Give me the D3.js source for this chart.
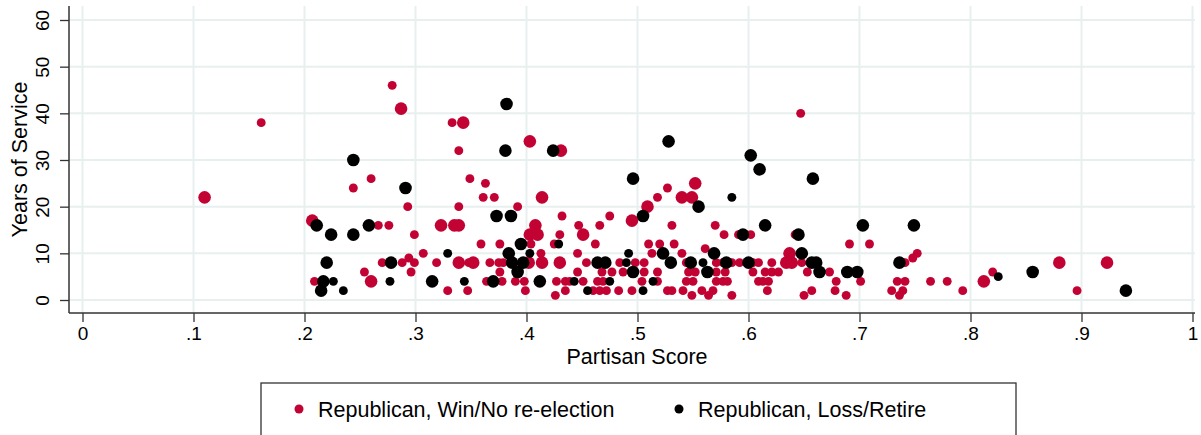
<!DOCTYPE html>
<html lang="en">
<head>
    <title>Partisan score vs years of service</title>
    <meta charset="utf-8">
    <style>
        body { margin: 0; background: #fff; }
        text { font-family: "Liberation Sans", Arial, Helvetica, sans-serif; fill: #000; }
    </style>
    <script src="https://d3js.org/d3.v7.min.js"></script>
</head>
<body>
<div id="chart"></div>
<script>

    // [partisan score, years of service, weight] — weight 2 = bigger marker
    const winPoints = [
        [0.110, 22, 2], [0.161, 38, 1], [0.279, 46, 1], [0.287, 41, 2], [0.333, 38, 1], [0.343, 38, 2],
        [0.339, 32, 1], [0.260, 26, 1], [0.244, 24, 1], [0.349, 26, 1], [0.363, 25, 1], [0.361, 22, 1],
        [0.371, 22, 1], [0.293, 20, 1], [0.339, 20, 1], [0.207, 17, 2], [0.2665, 16, 1], [0.276, 16, 1],
        [0.299, 14, 1], [0.323, 16, 2], [0.335, 16, 2], [0.339, 16, 2], [0.359, 12, 1], [0.376, 12, 1],
        [0.307, 10, 1], [0.270, 8, 1], [0.288, 8, 1], [0.294, 9, 1], [0.299, 8, 1], [0.319, 8, 1],
        [0.339, 8, 2], [0.348, 8, 1], [0.352, 8, 2], [0.367, 8, 1], [0.375, 8, 1], [0.379, 8, 1],
        [0.254, 6, 1], [0.296, 6, 1], [0.376, 6, 1], [0.209, 4, 1], [0.260, 4, 2], [0.364, 4, 1],
        [0.329, 2, 1], [0.347, 2, 1],
        [0.403, 34, 2], [0.431, 32, 2], [0.414, 22, 2], [0.392, 20, 1], [0.432, 18, 1], [0.475, 18, 1],
        [0.495, 17, 2], [0.509, 20, 2], [0.518, 22, 1], [0.527, 24, 1], [0.540, 22, 2], [0.549, 22, 2],
        [0.552, 25, 2], [0.531, 16, 1], [0.447, 16, 1], [0.466, 16, 1], [0.408, 16, 2], [0.403, 14, 2],
        [0.410, 14, 2], [0.430, 14, 1], [0.451, 14, 2], [0.404, 12, 1], [0.425, 12, 1], [0.462, 12, 1],
        [0.510, 12, 1], [0.520, 12, 1], [0.533, 12, 1], [0.413, 10, 1], [0.446, 10, 1], [0.513, 10, 1],
        [0.540, 10, 1], [0.402, 8, 2], [0.414, 8, 2], [0.430, 8, 2], [0.454, 8, 1], [0.484, 8, 1],
        [0.498, 8, 1], [0.506, 8, 1], [0.544, 8, 1], [0.468, 6, 1], [0.477, 6, 1], [0.487, 6, 1],
        [0.506, 6, 1], [0.518, 6, 1], [0.546, 6, 1], [0.552, 6, 1], [0.446, 6, 1], [0.378, 4, 1],
        [0.390, 4, 1], [0.398, 4, 1], [0.427, 4, 1], [0.435, 4, 1], [0.439, 4, 1], [0.451, 4, 1],
        [0.464, 4, 1], [0.469, 4, 1], [0.504, 4, 1], [0.518, 4, 1], [0.544, 4, 1], [0.550, 4, 1],
        [0.399, 2, 1], [0.426, 1, 1], [0.435, 2, 1], [0.460, 2, 1], [0.466, 2, 1], [0.472, 2, 1],
        [0.483, 2, 1], [0.495, 2, 1], [0.527, 2, 1], [0.531, 2, 1], [0.541, 2, 1], [0.549, 1, 1],
        [0.558, 2, 1], [0.564, 1, 1], [0.568, 2, 1],
        [0.570, 16, 1], [0.578, 14, 1], [0.591, 14, 1], [0.602, 14, 1], [0.642, 14, 1], [0.561, 11, 1],
        [0.637, 10, 2], [0.691, 12, 1], [0.709, 12, 1], [0.647, 40, 1], [0.571, 8, 1], [0.577, 8, 1],
        [0.585, 8, 1], [0.592, 8, 1], [0.604, 8, 1], [0.609, 8, 1], [0.621, 8, 1], [0.634, 8, 2],
        [0.639, 8, 2], [0.648, 8, 1], [0.571, 6, 1], [0.579, 6, 1], [0.604, 6, 1], [0.615, 6, 1],
        [0.621, 6, 1], [0.627, 6, 1], [0.653, 6, 1], [0.673, 6, 1], [0.571, 4, 1], [0.577, 4, 1],
        [0.581, 4, 1], [0.609, 4, 1], [0.613, 4, 1], [0.618, 4, 1], [0.679, 4, 1], [0.701, 4, 1],
        [0.617, 2, 1], [0.657, 2, 1], [0.678, 2, 1], [0.585, 1, 1], [0.650, 1, 1], [0.688, 1, 1],
        [0.752, 10, 1], [0.748, 9, 1], [0.741, 8, 1], [0.734, 4, 1], [0.741, 4, 1], [0.729, 2, 1],
        [0.739, 2, 1], [0.736, 1, 1], [0.764, 4, 1], [0.779, 4, 1], [0.793, 2, 1], [0.812, 4, 2],
        [0.820, 6, 1], [0.880, 8, 2], [0.896, 2, 1], [0.923, 8, 2]
    ];

    const lossPoints = [
        [0.244, 30, 2], [0.291, 24, 2], [0.373, 18, 2], [0.211, 16, 2], [0.224, 14, 2], [0.244, 14, 2],
        [0.258, 16, 2], [0.329, 10, 1], [0.220, 8, 2], [0.278, 8, 2], [0.217, 4, 2], [0.226, 4, 1],
        [0.277, 4, 1], [0.315, 4, 2], [0.344, 4, 1], [0.370, 4, 2], [0.215, 2, 2], [0.235, 2, 1],
        [0.382, 42, 2], [0.381, 32, 2], [0.424, 32, 2], [0.528, 34, 2], [0.496, 26, 2], [0.386, 18, 2],
        [0.505, 18, 2], [0.555, 20, 2], [0.395, 12, 2], [0.429, 12, 1], [0.384, 10, 2], [0.403, 10, 1],
        [0.492, 10, 1], [0.523, 10, 2], [0.387, 8, 2], [0.397, 8, 2], [0.464, 8, 2], [0.471, 8, 2],
        [0.490, 8, 1], [0.530, 8, 2], [0.548, 8, 2], [0.392, 6, 2], [0.496, 6, 2], [0.412, 4, 2],
        [0.443, 4, 1], [0.455, 2, 1], [0.475, 4, 1], [0.505, 2, 1], [0.514, 4, 1], [0.569, 10, 2],
        [0.559, 8, 1], [0.563, 6, 2], [0.615, 16, 2], [0.703, 16, 2], [0.595, 14, 2], [0.645, 14, 2],
        [0.648, 10, 2], [0.580, 8, 2], [0.600, 8, 2], [0.657, 8, 2], [0.661, 8, 2], [0.664, 6, 2],
        [0.689, 6, 2], [0.698, 6, 2], [0.602, 31, 2], [0.610, 28, 2], [0.658, 26, 2], [0.585, 22, 1],
        [0.749, 16, 2], [0.736, 8, 2], [0.825, 5, 1], [0.856, 6, 2], [0.940, 2, 2]
    ];

    const xTicks = [0, 0.1, 0.2, 0.3, 0.4, 0.5, 0.6, 0.7, 0.8, 0.9, 1];
    const xTickLabels = ["0", ".1", ".2", ".3", ".4", ".5", ".6", ".7", ".8", ".9", "1"];
    const yTicks = [0, 10, 20, 30, 40, 50, 60];
    const seriesNames = ["Republican, Win/No re-election", "Republican, Loss/Retire"];
    const seriesColors = ["#c20233", "#000000"];

    const W = 1201, H = 435;
    const plot = {left: 69, right: 1195, top: 6, bottom: 313};

    const svg = d3.select("#chart")
        .append("svg")
        .attr("width", W)
        .attr("height", H);

    const x = d3.scaleLinear().domain([0, 1]).range([82.5, 1192.5]);
    const y = d3.scaleLinear().domain([0, 60]).range([300, 20]);
    const r = d3.scaleSqrt().domain([0, 2]).range([0, 6.3]);

    // grid
    svg.append("g")
        .selectAll("line")
        .data(yTicks)
        .join("line")
        .attr("x1", plot.left).attr("x2", plot.right)
        .attr("y1", d => y(d)).attr("y2", d => y(d))
        .attr("stroke", "#e8efef")
        .attr("stroke-width", 2);

    svg.append("g")
        .selectAll("line")
        .data(xTicks)
        .join("line")
        .attr("x1", d => x(d)).attr("x2", d => x(d))
        .attr("y1", plot.top).attr("y2", plot.bottom)
        .attr("stroke", "#e8efef")
        .attr("stroke-width", 2);

    // axes
    const xAxis = svg.append("g")
        .attr("transform", `translate(0,${plot.bottom})`)
        .call(d3.axisBottom(x).tickValues(xTicks).tickFormat((d, i) => xTickLabels[i]).tickSize(9).tickSizeOuter(0));
    const yAxis = svg.append("g")
        .attr("transform", `translate(${plot.left},0)`)
        .call(d3.axisLeft(y).tickValues(yTicks).tickSize(9).tickSizeOuter(0));

    [xAxis, yAxis].forEach(g => {
        g.select(".domain").remove();
        g.selectAll(".tick line").attr("stroke", "#333").attr("stroke-width", 1.3);
        g.selectAll(".tick text")
            .attr("font-size", "19px")
            .attr("font-family", '"Liberation Sans", Arial, sans-serif')
            .attr("fill", "#000");
    });
    xAxis.selectAll(".tick text").attr("y", 14).attr("dy", "0.71em");
    yAxis.selectAll(".tick text")
        .attr("x", null)
        .attr("text-anchor", "middle")
        .attr("transform", "translate(-27,0) rotate(-90)")
        .attr("y", 0)
        .attr("dy", "0.35em");

    svg.append("line")
        .attr("x1", plot.left).attr("x2", plot.right)
        .attr("y1", plot.bottom).attr("y2", plot.bottom)
        .attr("stroke", "#333").attr("stroke-width", 1.5);
    svg.append("line")
        .attr("x1", plot.left).attr("x2", plot.left)
        .attr("y1", plot.top).attr("y2", plot.bottom)
        .attr("stroke", "#333").attr("stroke-width", 1.5);

    // axis titles
    svg.append("text")
        .attr("x", (plot.left + plot.right) / 2 + 5)
        .attr("y", 364)
        .attr("text-anchor", "middle")
        .attr("font-size", "21.5px")
        .text("Partisan Score");
    svg.append("text")
        .attr("transform", `translate(27,${(plot.top + plot.bottom) / 2}) rotate(-90)`)
        .attr("text-anchor", "middle")
        .attr("font-size", "21.5px")
        .text("Years of Service");

    // points: wins first, losses drawn on top
    [winPoints, lossPoints].forEach((pts, i) => {
        svg.append("g")
            .selectAll("circle")
            .data(pts)
            .join("circle")
            .attr("cx", d => x(d[0]))
            .attr("cy", d => y(d[1]))
            .attr("r", d => r(d[2]))
            .attr("fill", seriesColors[i]);
    });

    // legend
    const legend = svg.append("g");
    legend.append("rect")
        .attr("x", 261).attr("y", 383)
        .attr("width", 755).attr("height", 70)
        .attr("fill", "#fff")
        .attr("stroke", "#333")
        .attr("stroke-width", 1.3);
    const legendX = [299, 679];
    seriesNames.forEach((name, i) => {
        legend.append("circle")
            .attr("cx", legendX[i]).attr("cy", 409)
            .attr("r", 4.5)
            .attr("fill", seriesColors[i]);
        legend.append("text")
            .attr("x", legendX[i] + 19)
            .attr("y", 417)
            .attr("font-size", "21.5px")
            .text(name);
    });

</script>
</body>
</html>
